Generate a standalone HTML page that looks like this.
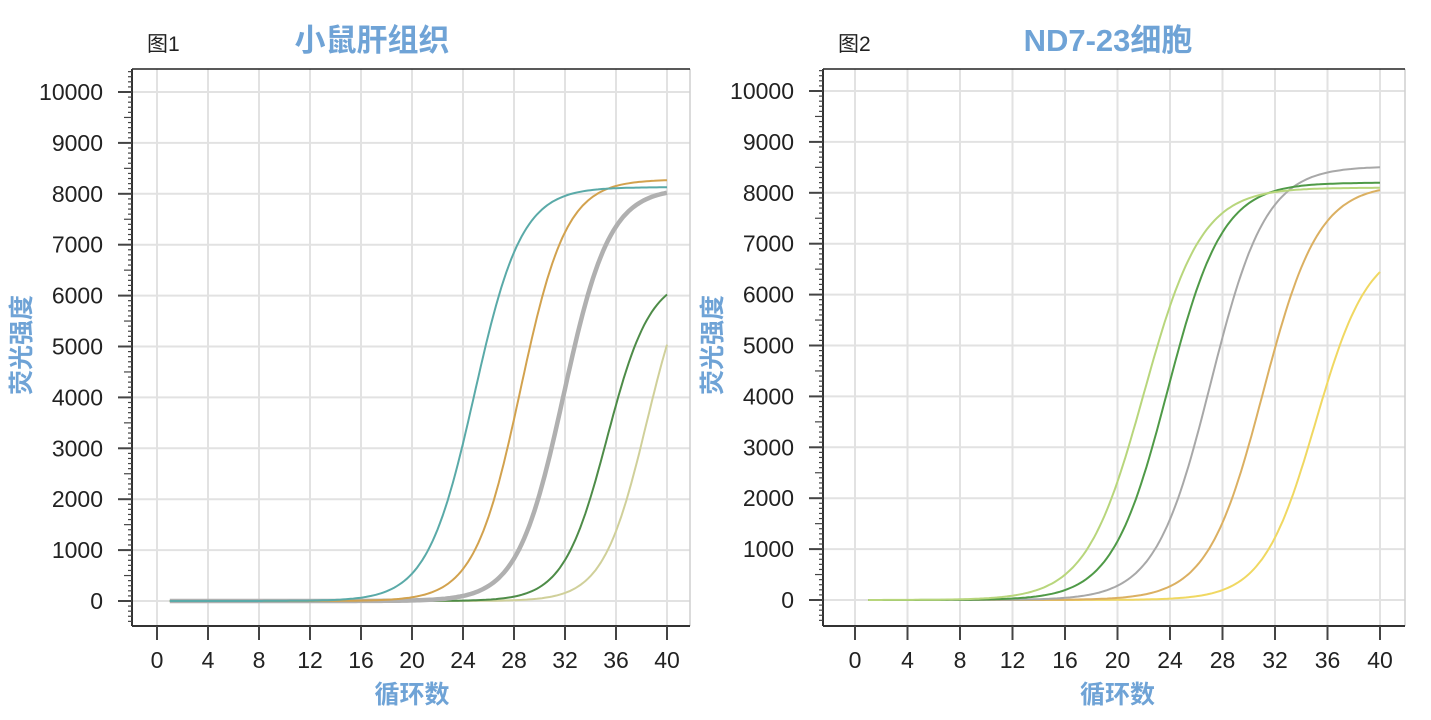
<!DOCTYPE html>
<html><head><meta charset="utf-8"><style>
html,body{margin:0;padding:0;background:#fff;}
svg{display:block;}
text{font-family:"Liberation Sans","Noto Sans CJK SC",sans-serif;}
</style></head><body>
<svg id="s" width="1431" height="720" viewBox="0 0 1431 720" xmlns="http://www.w3.org/2000/svg">
<rect width="1431" height="720" fill="#fff"/>
</svg>
<script>
const S=document.getElementById('s');
let out='';
function chart(o){
  const {L,R,T,B,x0,x40,y0,y10k,fig,title,tcx,curves}=o;
  const X=c=>x0+(x40-x0)*c/40, Y=v=>y0+(y10k-y0)*v/10000;
  for(let c=0;c<=40;c+=4) out+=`<line x1="${X(c)}" y1="${T}" x2="${X(c)}" y2="${B}" stroke="#e2e2e2" stroke-width="2"/>`;
  for(let v=0;v<=10000;v+=1000) out+=`<line x1="${L}" y1="${Y(v)}" x2="${R}" y2="${Y(v)}" stroke="#e2e2e2" stroke-width="2"/>`;
  out+=`<line x1="${R}" y1="${T}" x2="${R}" y2="${B}" stroke="#cfcfcf" stroke-width="1.5"/>`;
  out+=`<line x1="${L}" y1="${T}" x2="${R}" y2="${T}" stroke="#222" stroke-width="1.5"/>`;
  out+=`<line x1="${L}" y1="${T}" x2="${L}" y2="${B}" stroke="#333" stroke-width="2"/>`;
  out+=`<line x1="${L}" y1="${B}" x2="${R}" y2="${B}" stroke="#333" stroke-width="2"/>`;
  for(let v=-400;v<=10400;v+=100){const y=Y(v); if(y<T||y>B)continue;
    let len=v%1000==0?14:(v%500==0?8:4);
    out+=`<line x1="${L-len}" y1="${y}" x2="${L}" y2="${y}" stroke="#444" stroke-width="${v%1000==0?2:1.2}"/>`;}
  for(let v=0;v<=10000;v+=1000) out+=`<text x="${L-29}" y="${Y(v)+8}" font-size="23" fill="#222" text-anchor="end">${v}</text>`;
  for(let c=0;c<=40;c+=4){out+=`<line x1="${X(c)}" y1="${B}" x2="${X(c)}" y2="${B+14}" stroke="#444" stroke-width="2"/>`;
    out+=`<text x="${X(c)}" y="${B+42}" font-size="23" fill="#222" text-anchor="middle">${c}</text>`;}
  out+=`<text x="${L+15}" y="51" font-size="21" fill="#222">${fig}</text>`;
  out+=`<text x="${tcx}" y="51" font-size="31" font-weight="bold" fill="#6fa3d6" text-anchor="middle">${title}</text>`;
  out+=`<text x="${(X(0)+X(40))/2}" y="703" font-size="25" font-weight="bold" fill="#6fa3d6" text-anchor="middle">循环数</text>`;
  out+=`<text transform="translate(${L-102},345) rotate(-90)" font-size="25" font-weight="bold" fill="#6fa3d6" text-anchor="middle">荧光强度</text>`;
  for(const cv of curves){
    let d='';
    for(let c=1;c<=40.001;c+=0.2){const v=cv.P/(1+Math.exp(-(c-cv.m)/cv.k)); d+=(d?'L':'M')+X(c).toFixed(1)+','+Y(v).toFixed(1);}
    out+=`<path d="${d}" fill="none" stroke="${cv.col}" stroke-width="${cv.w||2}"/>`;
  }
}
chart({L:132,R:690,T:69,B:626,x0:157,x40:667,y0:601,y10k:92,fig:'图1',title:'小鼠肝组织',tcx:372,curves:[
 {P:7000,m:38.4,k:1.7,col:'#d0d09a'},
 {P:6400,m:35.3,k:1.7,col:'#4e8c48'},
 {P:8110,m:31.9,k:1.8,col:'#b0b0b0',w:4.5},
 {P:8280,m:28.5,k:1.8,col:'#d2a24e'},
 {P:8130,m:24.9,k:1.85,col:'#5aaaa8'}
]});
chart({L:823,R:1405,T:69,B:626,x0:855,x40:1380,y0:600,y10k:91,fig:'图2',title:'ND7-23细胞',tcx:1108,curves:[
 {P:7000,m:35.1,k:2.0,col:'#f0d862'},
 {P:8170,m:31.1,k:2.1,col:'#dbb062'},
 {P:8520,m:27.1,k:2.1,col:'#a8a8a8'},
 {P:8200,m:23.8,k:2.1,col:'#4f9a47'},
 {P:8100,m:22.0,k:2.2,col:'#b8d67c'}
]});
S.insertAdjacentHTML('beforeend',out);
</script>
</body></html>
